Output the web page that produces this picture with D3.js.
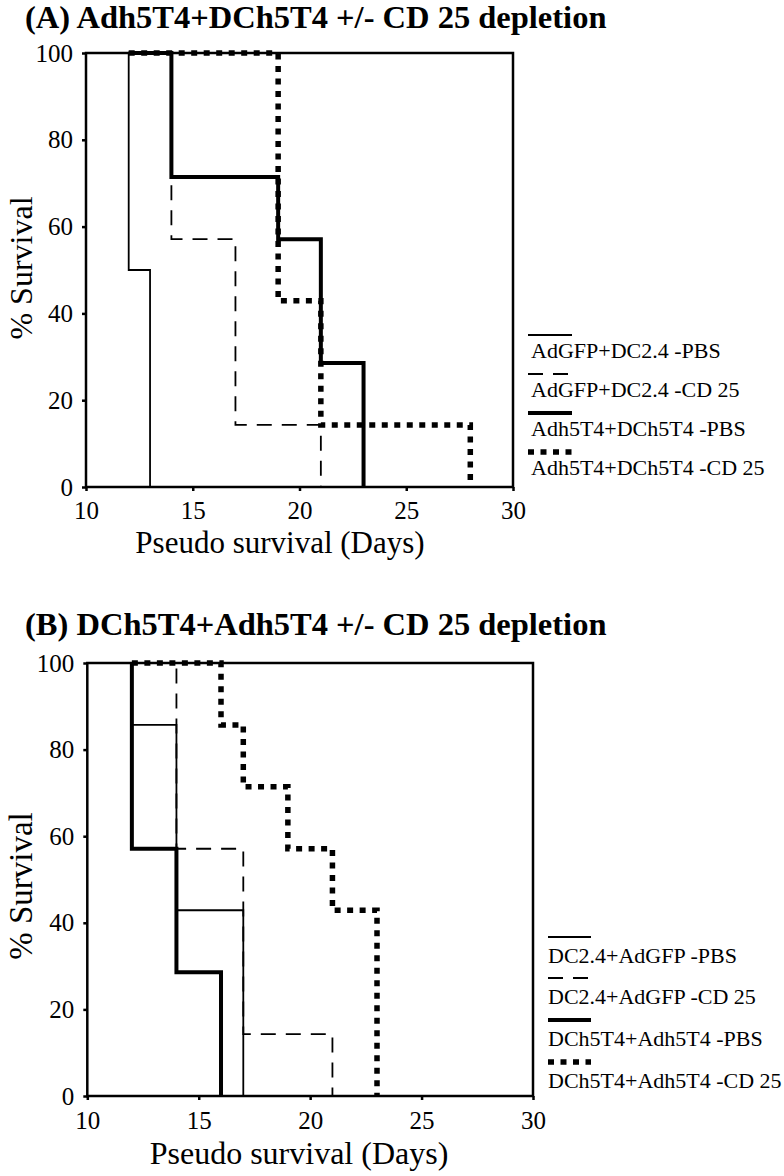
<!DOCTYPE html>
<html><head><meta charset="utf-8">
<script src="https://cdn.jsdelivr.net/npm/d3@7"></script>
<style>body{margin:0;background:#fff}</style>
</head><body>
<svg id="c" width="784" height="1176" xmlns="http://www.w3.org/2000/svg"></svg>
<script>
// ---- data ----
const xTicks = [10, 15, 20, 25, 30];
const yTicks = [0, 20, 40, 60, 80, 100];
const xTitle = "Pseudo survival (Days)";
const yTitle = "% Survival";

const titleA = "(A) Adh5T4+DCh5T4 +/- CD 25 depletion";
const seriesNamesA = ["AdGFP+DC2.4 -PBS", "AdGFP+DC2.4 -CD 25", "Adh5T4+DCh5T4 -PBS", "Adh5T4+DCh5T4 -CD 25"];
const startDaysA = [12, 12, 12, 12];
const dropDaysA = [[12, 13], [14, 17, 21], [14, 19, 21, 23], [19, 21, 28]];
const survivalA = [[50, 0], [57.1, 14.3, 0], [71.4, 57.1, 28.6, 0], [42.9, 14.3, 0]];

const titleB = "(B) DCh5T4+Adh5T4 +/- CD 25 depletion";
const seriesNamesB = ["DC2.4+AdGFP -PBS", "DC2.4+AdGFP -CD 25", "DCh5T4+Adh5T4 -PBS", "DCh5T4+Adh5T4 -CD 25"];
const startDaysB = [12, 12, 12, 12];
const dropDaysB = [[12, 14, 17], [14, 17, 21], [12, 14, 16], [16, 17, 19, 21, 23]];
const survivalB = [[85.7, 42.9, 0], [57.1, 14.3, 0], [57.1, 28.6, 0], [85.7, 71.4, 57.1, 42.9, 0]];

// ---- styles ----
const lineStyles = [
  {w: 1.8, dash: null},
  {w: 1.8, dash: "15,10"},
  {w: 4, dash: null},
  {w: 5.5, dash: "6,6.5"}
];
const FONT = "'Liberation Serif','Times New Roman',serif";
const svg = d3.select("#c");

function drawPanel(o) {
  const g = svg.append("g");
  const x = d3.scaleLinear().domain([10, 30]).range([o.left, o.right]);
  const y = d3.scaleLinear().domain([0, 100]).range([o.bottom, o.top]);

  g.append("text").attr("x", 25).attr("y", o.titleY)
    .attr("font-family", FONT).attr("font-weight", "bold").attr("font-size", 32.5)
    .text(o.title);

  const ya = g.append("g").attr("transform", `translate(${o.left},0)`)
    .call(d3.axisLeft(y).tickValues(yTicks).tickSize(4).tickPadding(9));
  ya.select(".domain").remove();
  ya.selectAll("line").attr("stroke", "#000").attr("stroke-width", 2.5);
  ya.selectAll("text").attr("font-family", FONT).attr("font-size", 25).attr("fill", "#000");

  const xa = g.append("g").attr("transform", `translate(0,${o.bottom})`)
    .call(d3.axisBottom(x).tickValues(xTicks).tickSize(4).tickPadding(o.xPad));
  xa.select(".domain").remove();
  xa.selectAll("line").attr("stroke", "#000").attr("stroke-width", 2.5);
  xa.selectAll("text").attr("font-family", FONT).attr("font-size", 25).attr("fill", "#000");

  g.append("rect").attr("x", x(10)).attr("y", y(100))
    .attr("width", x(30) - x(10)).attr("height", y(0) - y(100))
    .attr("fill", "none").attr("stroke", "#000").attr("stroke-width", 2.5);

  g.append("text").attr("transform", `translate(32,${o.yTitleY}) rotate(-90)`)
    .attr("text-anchor", "middle").attr("font-family", FONT).attr("font-size", o.yTitleSize)
    .text(yTitle);
  g.append("text").attr("x", o.xTitleX).attr("y", o.xTitleY)
    .attr("text-anchor", "middle").attr("font-family", FONT).attr("font-size", o.xTitleSize)
    .text(xTitle);

  const line = d3.line().x(d => x(d[0])).y(d => y(d[1]));
  o.drops.forEach((drops, i) => {
    const pts = [[o.starts[i], 100]];
    let prev = 100;
    drops.forEach((d, j) => { pts.push([d, prev]); pts.push([d, o.surv[i][j]]); prev = o.surv[i][j]; });
    const st = lineStyles[i];
    g.append("path").attr("d", line(pts)).attr("fill", "none").attr("stroke", "#000")
      .attr("stroke-width", st.w).attr("stroke-dasharray", st.dash)
      .attr("stroke-linejoin", "miter");
  });

  // legend
  o.names.forEach((nm, i) => {
    const st = lineStyles[i];
    g.append("line").attr("x1", o.legX1).attr("x2", o.legX2)
      .attr("y1", o.legSampleY[i]).attr("y2", o.legSampleY[i])
      .attr("stroke", "#000").attr("stroke-width", st.w).attr("stroke-dasharray", st.dash);
    g.append("text").attr("x", o.legTextX).attr("y", o.legTextY[i])
      .attr("font-family", FONT).attr("font-size", 22).text(nm);
  });
}

drawPanel({
  title: titleA, titleY: 28,
  left: 86, right: 513, top: 53, bottom: 487, xPad: 10,
  yTitleY: 268, yTitleSize: 32, xTitleX: 280, xTitleY: 553, xTitleSize: 31,
  names: seriesNamesA, starts: startDaysA, drops: dropDaysA, surv: survivalA,
  legX1: 528, legX2: 572, legTextX: 531,
  legSampleY: [335, 374, 413, 452], legTextY: [358, 397, 436, 475]
});

drawPanel({
  title: titleB, titleY: 635,
  left: 87.3, right: 533, top: 663, bottom: 1096, xPad: 11,
  yTitleY: 886, yTitleSize: 33, xTitleX: 299, xTitleY: 1164, xTitleSize: 32,
  names: seriesNamesB, starts: startDaysB, drops: dropDaysB, surv: survivalB,
  legX1: 548, legX2: 591, legTextX: 548,
  legSampleY: [937, 978, 1020, 1062], legTextY: [963, 1004, 1046, 1088]
});
</script>
</body></html>
